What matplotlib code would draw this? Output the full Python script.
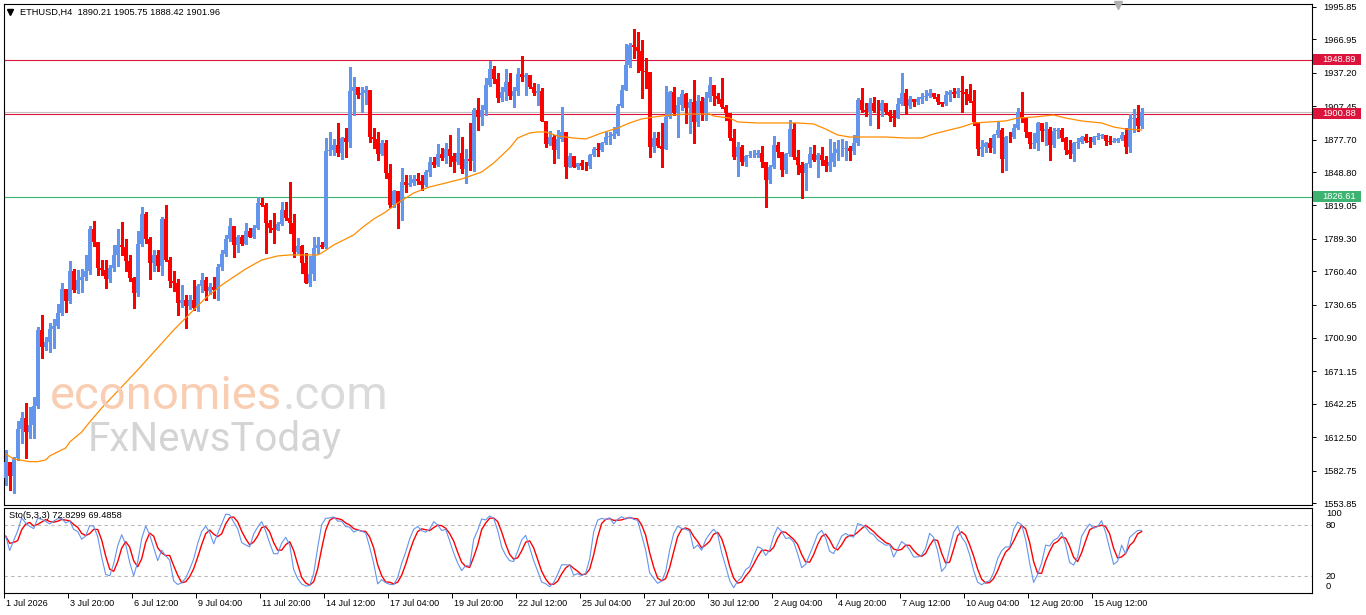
import numpy as np
import pandas as pd
import matplotlib
matplotlib.use("Agg")
import matplotlib.pyplot as plt
from matplotlib.lines import Line2D
from matplotlib.patches import Rectangle
import matplotlib.transforms as mtransforms

plt.rcParams['font.family'] = ['Liberation Sans', 'DejaVu Sans']

# ---------------- data (ETHUSD, H4) ----------------
symbol_title = "ETHUSD,H4  1890.21 1905.75 1888.42 1901.96"
first_open = 1575.8
closes = [
    1590.7, 1577.9, 1594.3, 1619.5, 1629.3, 1617.4, 1623.4, 1640.3, 1708.0, 1692.6,
    1697.0, 1708.9, 1711.6, 1722.9, 1744.3, 1734.2, 1760.6, 1743.7, 1752.6, 1755.6,
    1760.6, 1798.0, 1786.0, 1763.0, 1761.5, 1753.5, 1763.0, 1774.9, 1783.8, 1782.3,
    1769.5, 1754.7, 1741.3, 1784.7, 1811.4, 1788.9, 1767.5, 1774.9, 1765.4, 1807.0,
    1770.4, 1752.0, 1750.2, 1732.4, 1734.8, 1729.5, 1734.8, 1727.4, 1746.9, 1752.6,
    1743.1, 1746.1, 1743.7, 1763.9, 1775.8, 1789.1, 1800.7, 1783.8, 1791.2, 1784.7,
    1796.2, 1791.2, 1798.6, 1820.9, 1819.4, 1803.1, 1798.6, 1797.0, 1802.5, 1815.0,
    1807.5, 1803.1, 1777.2, 1782.9, 1767.4, 1750.2, 1757.9, 1780.8, 1783.8, 1782.3,
    1867.8, 1868.4, 1872.9, 1866.0, 1878.8, 1875.8, 1921.3, 1924.2, 1917.4, 1919.5,
    1921.9, 1880.3, 1878.2, 1864.8, 1874.4, 1847.6, 1819.4, 1831.9, 1821.5, 1840.2,
    1837.2, 1839.3, 1842.6, 1841.1, 1837.2, 1849.1, 1858.0, 1855.0, 1864.8, 1861.0,
    1869.0, 1863.1, 1858.0, 1865.4, 1851.2, 1860.1, 1858.9, 1904.0, 1898.1, 1904.0,
    1926.3, 1940.3, 1931.4, 1914.4, 1920.4, 1929.3, 1916.5, 1921.3, 1936.1, 1933.7,
    1935.5, 1924.2, 1918.9, 1921.3, 1894.5, 1873.7, 1879.7, 1868.4, 1877.9, 1884.7,
    1853.0, 1863.1, 1853.5, 1856.5, 1854.5, 1854.0, 1864.0, 1869.3, 1868.7, 1875.0,
    1880.3, 1880.9, 1882.7, 1907.6, 1921.9, 1944.2, 1962.0, 1960.5, 1957.0, 1938.8,
    1937.6, 1871.4, 1879.4, 1872.3, 1869.3, 1898.1, 1920.4, 1901.1, 1908.5, 1918.3,
    1905.5, 1911.5, 1893.7, 1912.4, 1901.7, 1914.5, 1926.3, 1916.5, 1913.6, 1906.4,
    1901.1, 1878.8, 1861.9, 1870.8, 1858.0, 1863.1, 1863.7, 1864.3, 1866.0, 1858.0,
    1841.7, 1853.0, 1872.9, 1866.9, 1850.6, 1864.9, 1887.1, 1862.5, 1855.1, 1848.2,
    1856.0, 1864.9, 1859.5, 1864.0, 1859.5, 1854.2, 1858.0, 1865.5, 1869.0, 1869.6,
    1869.9, 1867.8, 1874.4, 1913.3, 1904.1, 1902.6, 1910.6, 1903.5, 1903.0, 1910.6,
    1902.0, 1899.1, 1897.3, 1909.4, 1919.6, 1908.0, 1913.6, 1911.5, 1913.9, 1915.4,
    1916.6, 1919.6, 1916.0, 1911.5, 1909.4, 1917.5, 1919.8, 1918.1, 1921.3, 1920.4,
    1918.4, 1912.1, 1893.7, 1869.4, 1871.4, 1874.4, 1870.0, 1881.8, 1886.3, 1860.4,
    1880.4, 1879.8, 1888.4, 1902.0, 1896.7, 1884.2, 1873.5, 1875.0, 1892.8, 1885.4,
    1887.2, 1872.9, 1885.4, 1886.0, 1879.5, 1868.5, 1864.9, 1874.4, 1875.9, 1880.4,
    1876.5, 1875.9, 1880.4, 1881.3, 1881.9, 1876.5, 1875.3, 1876.5, 1878.3, 1881.9,
    1871.5, 1895.8, 1896.7, 1890.21, 1901.96,
]
highs = [
    1601.1, 1590.7, 1595.2, 1627.2, 1635.3, 1642.7, 1639.7, 1648.6, 1711.0, 1721.4,
    1702.1, 1714.0, 1717.5, 1731.2, 1750.2, 1744.3, 1769.5, 1762.1, 1761.5, 1762.1,
    1774.9, 1800.5, 1805.0, 1786.8, 1770.4, 1770.4, 1766.0, 1783.8, 1798.1, 1804.0,
    1788.9, 1774.9, 1755.0, 1796.3, 1817.9, 1812.9, 1791.2, 1779.3, 1779.3, 1809.1,
    1819.4, 1772.8, 1760.9, 1753.5, 1748.2, 1739.3, 1739.3, 1752.6, 1749.0, 1758.5,
    1755.0, 1749.6, 1755.6, 1766.5, 1779.3, 1792.7, 1807.5, 1800.7, 1792.7, 1792.7,
    1803.1, 1798.6, 1801.6, 1826.8, 1826.0, 1820.9, 1806.0, 1812.0, 1804.6, 1822.4,
    1822.4, 1840.2, 1811.4, 1789.7, 1783.5, 1776.3, 1774.0, 1790.6, 1791.0, 1786.7,
    1878.8, 1884.7, 1878.2, 1892.2, 1880.3, 1887.7, 1942.7, 1933.2, 1924.5, 1924.8,
    1925.4, 1922.0, 1887.7, 1884.7, 1877.3, 1877.3, 1855.9, 1832.8, 1832.0, 1852.1,
    1846.1, 1846.1, 1846.1, 1847.6, 1846.1, 1850.6, 1861.9, 1861.9, 1873.8, 1869.9,
    1874.4, 1881.8, 1865.4, 1887.7, 1880.3, 1869.0, 1892.2, 1905.5, 1914.4, 1908.5,
    1932.3, 1947.7, 1943.2, 1936.7, 1924.8, 1940.3, 1936.7, 1924.8, 1941.2, 1952.2,
    1936.7, 1935.5, 1927.8, 1927.2, 1923.3, 1894.5, 1885.6, 1881.8, 1886.2, 1906.4,
    1884.7, 1865.4, 1863.1, 1857.0, 1859.5, 1857.4, 1864.6, 1871.4, 1874.4, 1875.8,
    1884.8, 1884.8, 1889.2, 1909.1, 1926.3, 1962.6, 1963.5, 1976.2, 1973.3, 1966.4,
    1950.7, 1938.0, 1884.8, 1884.8, 1892.2, 1925.4, 1921.3, 1924.9, 1915.9, 1921.9,
    1919.5, 1913.6, 1930.8, 1917.4, 1915.9, 1920.4, 1933.2, 1926.3, 1919.5, 1932.3,
    1908.5, 1901.5, 1886.8, 1875.8, 1872.9, 1864.0, 1867.8, 1868.4, 1868.4, 1872.0,
    1858.0, 1855.1, 1880.9, 1875.8, 1867.0, 1866.1, 1895.2, 1892.8, 1868.4, 1858.0,
    1856.5, 1871.4, 1872.9, 1865.5, 1871.4, 1863.1, 1877.9, 1875.8, 1877.3, 1877.9,
    1876.7, 1872.0, 1881.8, 1914.5, 1924.0, 1910.1, 1915.1, 1915.7, 1913.0, 1913.0,
    1910.6, 1904.1, 1904.1, 1914.5, 1936.8, 1922.8, 1916.9, 1913.6, 1916.0, 1919.0,
    1921.9, 1922.8, 1919.6, 1918.1, 1911.5, 1921.3, 1921.9, 1923.4, 1923.4, 1934.7,
    1922.8, 1927.3, 1921.9, 1893.7, 1877.4, 1875.9, 1878.9, 1882.4, 1894.3, 1888.4,
    1881.0, 1884.2, 1891.4, 1906.2, 1920.5, 1898.2, 1884.2, 1883.3, 1893.7, 1892.8,
    1893.1, 1889.3, 1888.4, 1888.4, 1888.4, 1880.4, 1877.4, 1875.9, 1879.5, 1881.3,
    1882.4, 1880.4, 1881.3, 1883.3, 1882.5, 1881.9, 1881.3, 1879.5, 1878.9, 1884.8,
    1888.4, 1900.3, 1905.0, 1908.6, 1905.75,
]
lows = [
    1569.9, 1565.5, 1562.5, 1592.2, 1607.1, 1593.7, 1611.5, 1611.5, 1638.2, 1683.4,
    1690.2, 1688.7, 1691.7, 1709.5, 1721.4, 1724.4, 1732.4, 1741.6, 1740.7, 1742.2,
    1752.6, 1758.0, 1783.0, 1757.1, 1757.1, 1745.8, 1750.5, 1760.9, 1765.4, 1774.9,
    1760.9, 1751.7, 1727.4, 1738.7, 1783.2, 1785.9, 1753.5, 1760.9, 1760.9, 1757.1,
    1769.8, 1746.7, 1743.1, 1721.4, 1728.9, 1709.6, 1726.5, 1725.9, 1725.0, 1742.2,
    1734.8, 1740.1, 1736.3, 1734.8, 1761.5, 1774.0, 1787.3, 1772.8, 1777.8, 1783.8,
    1784.7, 1790.6, 1789.7, 1797.7, 1818.5, 1776.4, 1795.7, 1785.8, 1797.7, 1801.6,
    1806.0, 1794.2, 1773.4, 1776.3, 1759.1, 1749.6, 1747.5, 1752.6, 1777.0, 1781.5,
    1780.8, 1864.0, 1864.0, 1863.1, 1860.1, 1862.5, 1870.8, 1899.6, 1914.4, 1902.6,
    1909.4, 1875.8, 1869.9, 1859.5, 1864.0, 1843.2, 1817.9, 1817.9, 1799.2, 1806.0,
    1831.3, 1836.3, 1837.5, 1838.1, 1832.8, 1836.3, 1845.2, 1853.6, 1854.2, 1859.5,
    1857.1, 1854.2, 1849.1, 1855.9, 1847.6, 1839.3, 1850.6, 1850.0, 1886.2, 1890.7,
    1899.6, 1925.4, 1928.4, 1911.5, 1912.4, 1913.0, 1913.5, 1907.0, 1917.4, 1930.2,
    1917.4, 1923.3, 1917.4, 1908.5, 1893.9, 1871.4, 1872.9, 1856.5, 1861.0, 1876.7,
    1843.7, 1853.0, 1852.9, 1851.5, 1851.5, 1850.6, 1852.7, 1863.1, 1863.1, 1867.5,
    1873.5, 1874.0, 1878.8, 1881.8, 1907.0, 1924.8, 1942.7, 1950.1, 1938.2, 1915.1,
    1923.4, 1862.5, 1867.0, 1871.0, 1853.6, 1869.0, 1896.6, 1899.6, 1880.3, 1904.1,
    1892.8, 1883.3, 1874.4, 1889.8, 1895.1, 1895.1, 1912.4, 1908.5, 1910.6, 1905.5,
    1895.1, 1877.3, 1860.1, 1845.3, 1855.1, 1854.2, 1861.9, 1861.9, 1862.5, 1853.6,
    1817.9, 1839.3, 1852.1, 1861.9, 1845.3, 1848.2, 1863.1, 1860.1, 1847.0, 1825.4,
    1832.8, 1853.6, 1858.9, 1844.7, 1855.1, 1850.0, 1850.0, 1854.2, 1859.5, 1863.1,
    1859.5, 1859.5, 1864.9, 1872.9, 1902.6, 1899.1, 1890.7, 1902.6, 1888.4, 1899.1,
    1900.2, 1894.6, 1890.1, 1896.7, 1908.6, 1900.2, 1906.2, 1908.0, 1909.2, 1910.1,
    1913.3, 1915.4, 1915.1, 1909.2, 1908.0, 1908.6, 1912.1, 1916.0, 1916.0, 1902.6,
    1909.2, 1910.9, 1890.7, 1864.0, 1863.4, 1866.4, 1866.4, 1865.5, 1880.3, 1849.2,
    1850.7, 1875.3, 1878.9, 1887.2, 1893.7, 1880.4, 1870.0, 1870.6, 1868.5, 1876.5,
    1872.9, 1859.6, 1871.5, 1878.9, 1876.5, 1864.6, 1861.6, 1858.7, 1870.0, 1874.4,
    1875.9, 1871.5, 1873.5, 1878.3, 1878.9, 1873.0, 1873.5, 1875.3, 1875.3, 1877.4,
    1865.5, 1866.4, 1884.8, 1885.4, 1888.42,
]
# moving average (orange) read at selected bars
ma_bar = [0, 2, 6, 8, 10, 11, 15, 16, 19, 21, 24, 33, 42, 47, 50, 54, 57, 60, 64, 68,
          71, 78, 79, 82, 87, 89, 92, 95, 98, 102, 106, 110, 114, 119, 122, 126, 128, 131,
          133, 135, 138, 142, 145, 149, 153, 156, 159, 162, 166, 171, 176, 177, 181, 183,
          188, 195, 198, 202, 205, 208, 211, 213, 220, 225, 229, 232, 236, 239, 242, 246,
          250, 253, 257, 262, 265, 269, 274, 277, 280, 284]
ma_val = [1597.5, 1593.1, 1590.7, 1590.7, 1592.2, 1595.8, 1602.9, 1608.2, 1617.1, 1626.0,
          1638.5, 1672.4, 1708.0, 1725.9, 1736.6, 1748.1, 1755.3, 1762.4, 1770.4, 1774.0,
          1774.9, 1774.9, 1776.7, 1783.8, 1792.7, 1798.9, 1806.9, 1813.2, 1821.2, 1830.1,
          1835.5, 1839.0, 1842.6, 1848.8, 1856.8, 1870.2, 1879.1, 1883.6, 1884.5, 1884.5,
          1880.9, 1879.1, 1878.2, 1883.6, 1888.0, 1892.5, 1896.1, 1897.8, 1899.6, 1900.5,
          1900.5, 1898.7, 1896.9, 1893.4, 1892.5, 1892.5, 1892.5, 1891.6, 1887.1, 1881.8,
          1880.0, 1880.0, 1880.0, 1879.1, 1879.1, 1882.7, 1886.3, 1888.9, 1892.5, 1893.4,
          1894.3, 1896.9, 1897.8, 1899.6, 1896.9, 1894.3, 1892.5, 1888.9, 1887.1, 1886.3]

level_red = [1948.89, 1900.88]
level_green = 1826.61
bid_price = 1901.96
price_ticks = [1995.85, 1966.95, 1937.20, 1907.45, 1877.70, 1848.80, 1819.05, 1789.30,
               1760.40, 1730.65, 1700.90, 1671.15, 1642.25, 1612.50, 1582.75, 1553.85]
price_tick_labels = ["1995.85", "1966.95", "1937.20", "1907.45", "1877.70", "1848.80",
                     "1819.05", "1789.30", "1760.40", "1730.65", "1700.90", "1671.15",
                     "1642.25", "1612.50", "1582.75", "1553.85"]
time_label_bars = [0, 16, 32, 48, 64, 80, 96, 112, 128, 144, 160, 176, 192, 208, 224, 240, 256, 272]
time_labels = ["1 Jul 2026", "3 Jul 20:00", "6 Jul 12:00", "9 Jul 04:00", "11 Jul 20:00",
               "14 Jul 12:00", "17 Jul 04:00", "19 Jul 20:00", "22 Jul 12:00", "25 Jul 04:00",
               "27 Jul 20:00", "30 Jul 12:00", "2 Aug 04:00", "4 Aug 20:00", "7 Aug 12:00",
               "10 Aug 04:00", "12 Aug 20:00", "15 Aug 12:00"]
sto_title = "Sto(5,3,3) 72.8299 69.4858"
sto_levels = [80, 20]

# ---------------- layout helpers ----------------
W, H = 1366, 615
def fx(px): return px / W
def fy(py): return 1 - py / H

fig = plt.figure(figsize=(W / 100, H / 100), dpi=100)
fig.patch.set_facecolor('white')

ax = fig.add_axes([fx(4), fy(505), fx(1312) - fx(4), fy(4) - fy(505)])
ax2 = fig.add_axes([fx(4), fy(592.5), fx(1312) - fx(4), fy(508) - fy(592.5)])

n = len(closes)
idx = np.arange(n)
c = np.array(closes)
o = np.r_[first_open, c[:-1]]
h = np.array(highs)
l = np.array(lows)

BLUE = '#6495ED'
RED = '#FF0000'
up = c >= o
cols = np.where(up, BLUE, RED)

xl = (-0.425, 326.6)

# watermark
fig.text(fx(50), fy(409), "economies", fontsize=34, family='Roboto', color='#F9CDB1',
         va='baseline', ha='left', zorder=0)
t1 = fig.text(fx(50), fy(409), "economies", fontsize=34, family='Roboto', alpha=0)
fig.canvas.draw()
bb = t1.get_window_extent()
fig.text(bb.x1 / W, fy(409), ".com", fontsize=34, family='Roboto', color='#DADADA',
         va='baseline', ha='left', zorder=0)
fig.text(fx(88), fy(451), "FxNewsToday", fontsize=29, family='Roboto', color='#D4D4D4',
         va='baseline', ha='left', zorder=0)

for a in (ax, ax2):
    a.set_facecolor('none')
    a.set_xlim(*xl)
    for s in a.spines.values():
        s.set_color('black')
        s.set_linewidth(0.8)

# main panel
ax.set_ylim(1552.07, 1998.52)
for lv in level_red:
    ax.axhline(lv, color='#DC143C', lw=0.8, zorder=1)
ax.axhline(bid_price, color='#C0C0C0', lw=0.8, zorder=0.9)
ax.axhline(level_green, color='#3CB371', lw=0.8, zorder=1)

body_lo = np.minimum(o, c)
body_h = np.maximum(np.abs(c - o), 0.6)
ax.vlines(idx, np.minimum(l, body_lo), np.maximum(h, np.maximum(o, c)), colors=cols,
          linewidth=0.75, zorder=2, antialiased=False)
ax.bar(idx, body_h, bottom=body_lo, width=0.72, color=cols, linewidth=0, zorder=3,
       antialiased=False)
ax.plot(ma_bar, ma_val, color='#FF8C00', lw=0.9, zorder=4)

ax.set_xticks([])
ax.yaxis.tick_right()
ax.set_yticks(price_ticks)
ax.set_yticklabels(price_tick_labels)
ax.tick_params(axis='y', direction='out', length=3, width=0.7, pad=5, labelsize=6.7,
               colors='black')

# label boxes on the price scale
trans = mtransforms.blended_transform_factory(fig.transFigure, ax.transData)
box_h = 11 * (1998.52 - 1552.07) / 501
for val, col in [(1948.89, '#DC143C'), (1900.88, '#DC143C'), (1826.61, '#3CB371')]:
    r = Rectangle((fx(1313), val - box_h / 2), fx(1361) - fx(1313), box_h, transform=trans,
                  facecolor=col, edgecolor='none', clip_on=False, zorder=10)
    ax.add_patch(r)
    ax.text(fx(1322), val, f"{val:.2f}", transform=trans, color='white', fontsize=6.7,
            va='center', ha='left', zorder=11, clip_on=False)

# stochastic panel
hi5 = pd.Series(h).rolling(5, min_periods=1).max()
lo5 = pd.Series(l).rolling(5, min_periods=1).min()
num = (pd.Series(c) - lo5).rolling(3, min_periods=1).sum()
den = (hi5 - lo5).rolling(3, min_periods=1).sum()
k_line = 100 * num / den
d_line = k_line.rolling(3, min_periods=1).mean()

ax2.set_ylim(0, 100)
for lv in sto_levels:
    ax2.axhline(lv, color='#B8B8B8', lw=0.8, ls=(0, (3, 3)), zorder=1)
ax2.plot(idx, k_line, color=BLUE, lw=0.8, zorder=3)
ax2.plot(idx, d_line, color=RED, lw=1.0, zorder=2)
ax2.yaxis.tick_right()
ax2.set_yticks([94.2, 80, 20, 7.8])
ax2.set_yticklabels(["100", "80", "20", "0"])
ax2.tick_params(axis='y', length=0, pad=10, labelsize=6.7)
ax2.set_xticks(np.array(time_label_bars) - 0.3)
ax2.set_xticklabels(time_labels)
ax2.tick_params(axis='x', direction='out', length=3.5, width=0.7, pad=1, labelsize=6.5)
offset = mtransforms.ScaledTranslation(2 / 100, 0, fig.dpi_scale_trans)
for t in ax2.get_xticklabels():
    t.set_ha('left')
    t.set_transform(t.get_transform() + offset)

fig.text(fx(9), fy(516), sto_title, fontsize=6.7, va='center', ha='left', color='black')

# title and markers
fig.text(fx(20), fy(12), symbol_title, fontsize=6.7, va='center', ha='left', color='black')
fig.add_artist(Line2D([fx(9.5)], [fy(11.5)], marker='v', markersize=4, color='black',
                      transform=fig.transFigure))
fig.add_artist(Line2D([fx(1118)], [fy(5)], marker='v', markersize=6, color='#B0B0B0',
                      transform=fig.transFigure))

fig.savefig("out.png", dpi=100, facecolor='white')
